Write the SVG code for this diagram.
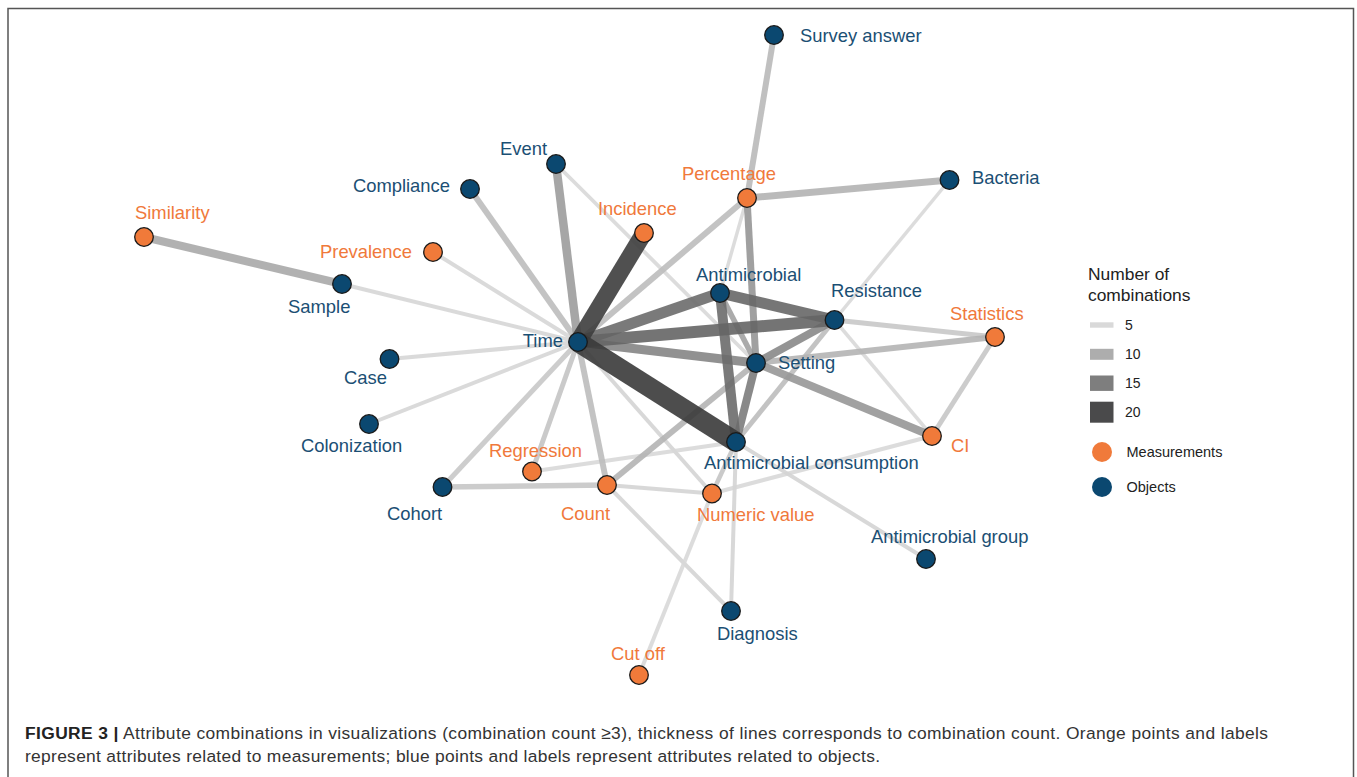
<svg xmlns="http://www.w3.org/2000/svg" width="1357" height="777" viewBox="0 0 1357 777">
<style>
.lbl{font-family:"Liberation Sans",Arial,sans-serif;font-size:18.4px}
.b{fill:#1b4f74}
.o{fill:#f0793b}
.nb{fill:#0b4870;stroke:#1a1a1a;stroke-width:1.3}
.no{fill:#f07a3a;stroke:#1a1a1a;stroke-width:1.3}
.leg{font-family:"Liberation Sans",Arial,sans-serif;fill:#222}
.cap{font-family:"Liberation Sans",Arial,sans-serif;font-size:17.4px;fill:#333}
#edges line{stroke-linecap:butt;stroke-opacity:0.9}
</style>
<rect width="1357" height="777" fill="#fff"/>
<path d="M8,780 V8.5 H1353.5 V780" fill="none" stroke="#555" stroke-width="1.5"/>
<g id="edges">
<line x1="578" y1="342" x2="433" y2="252" stroke="#d6d6d6" stroke-width="4"/>
<line x1="578" y1="342" x2="342" y2="284" stroke="#d6d6d6" stroke-width="4"/>
<line x1="578" y1="342" x2="389.5" y2="359" stroke="#d6d6d6" stroke-width="4"/>
<line x1="578" y1="342" x2="369" y2="424" stroke="#d6d6d6" stroke-width="4"/>
<line x1="578" y1="342" x2="712" y2="493.5" stroke="#d4d4d4" stroke-width="4"/>
<line x1="556" y1="164" x2="756" y2="363" stroke="#d8d8d8" stroke-width="3.8"/>
<line x1="747" y1="198" x2="720" y2="293" stroke="#d8d8d8" stroke-width="3.5"/>
<line x1="949.5" y1="180" x2="834.5" y2="320" stroke="#d8d8d8" stroke-width="3.5"/>
<line x1="834.5" y1="320" x2="932" y2="436" stroke="#d8d8d8" stroke-width="3.5"/>
<line x1="532" y1="471.5" x2="736" y2="442" stroke="#d8d8d8" stroke-width="4"/>
<line x1="932" y1="436" x2="712" y2="493.5" stroke="#d8d8d8" stroke-width="4"/>
<line x1="607" y1="485" x2="712" y2="493.5" stroke="#d4d4d4" stroke-width="4"/>
<line x1="607" y1="485" x2="731" y2="611" stroke="#d4d4d4" stroke-width="4"/>
<line x1="736" y1="442" x2="731" y2="611" stroke="#d4d4d4" stroke-width="4"/>
<line x1="736" y1="442" x2="926" y2="559" stroke="#d4d4d4" stroke-width="4"/>
<line x1="712" y1="493.5" x2="639" y2="675" stroke="#d8d8d8" stroke-width="4"/>
<line x1="712" y1="493.5" x2="736" y2="442" stroke="#c4c4c4" stroke-width="4.5"/>
<line x1="578" y1="342" x2="442.5" y2="487" stroke="#c8c8c8" stroke-width="5"/>
<line x1="578" y1="342" x2="532" y2="471.5" stroke="#c4c4c4" stroke-width="5"/>
<line x1="442.5" y1="487" x2="607" y2="485" stroke="#c6c6c6" stroke-width="5.5"/>
<line x1="834.5" y1="320" x2="995" y2="337" stroke="#c8c8c8" stroke-width="5"/>
<line x1="995" y1="337" x2="932" y2="436" stroke="#c6c6c6" stroke-width="5"/>
<line x1="834.5" y1="320" x2="736" y2="442" stroke="#bcbcbc" stroke-width="5"/>
<line x1="578" y1="342" x2="607" y2="485" stroke="#bcbcbc" stroke-width="6"/>
<line x1="578" y1="342" x2="470" y2="189" stroke="#bcbcbc" stroke-width="6"/>
<line x1="578" y1="342" x2="747" y2="198" stroke="#bcbcbc" stroke-width="6"/>
<line x1="756" y1="363" x2="607" y2="485" stroke="#b4b4b4" stroke-width="6"/>
<line x1="756" y1="363" x2="995" y2="337" stroke="#b4b4b4" stroke-width="6"/>
<line x1="774" y1="35" x2="747" y2="198" stroke="#b9b9b9" stroke-width="6"/>
<line x1="747" y1="198" x2="949.5" y2="180" stroke="#b2b2b2" stroke-width="7"/>
<line x1="144" y1="237" x2="342" y2="284" stroke="#a8a8a8" stroke-width="8"/>
<line x1="578" y1="342" x2="556" y2="164" stroke="#9c9c9c" stroke-width="8.5"/>
<line x1="720" y1="293" x2="756" y2="363" stroke="#a2a2a2" stroke-width="5.5"/>
<line x1="747" y1="198" x2="756" y2="363" stroke="#969696" stroke-width="7"/>
<line x1="756" y1="363" x2="932" y2="436" stroke="#979797" stroke-width="8"/>
<line x1="756" y1="363" x2="834.5" y2="320" stroke="#888" stroke-width="8"/>
<line x1="756" y1="363" x2="736" y2="442" stroke="#7c7c7c" stroke-width="8"/>
<line x1="578" y1="342" x2="756" y2="363" stroke="#858585" stroke-width="9"/>
<line x1="720" y1="293" x2="736" y2="442" stroke="#6c6c6c" stroke-width="10"/>
<line x1="578" y1="342" x2="720" y2="293" stroke="#6b6b6b" stroke-width="11"/>
<line x1="720" y1="293" x2="834.5" y2="320" stroke="#676767" stroke-width="11"/>
<line x1="578" y1="342" x2="834.5" y2="320" stroke="#656565" stroke-width="12"/>
<line x1="578" y1="342" x2="644" y2="233" stroke="#3d3d3d" stroke-width="17"/>
<line x1="578" y1="342" x2="736" y2="442" stroke="#3a3a3a" stroke-width="20"/>
</g>
<g id="n-survey"><circle class="nb" cx="774" cy="35" r="9.3"/><text class="lbl b" x="800" y="42">Survey answer</text></g>
<g id="n-event"><circle class="nb" cx="556" cy="164" r="9.3"/><text class="lbl b" x="547" y="155" text-anchor="end">Event</text></g>
<g id="n-compliance"><circle class="nb" cx="470" cy="189" r="9.3"/><text class="lbl b" x="450" y="192" text-anchor="end">Compliance</text></g>
<g id="n-percentage"><circle class="no" cx="747" cy="198" r="9.3"/><text class="lbl o" x="682" y="180">Percentage</text></g>
<g id="n-bacteria"><circle class="nb" cx="949.5" cy="180" r="9.3"/><text class="lbl b" x="972" y="184">Bacteria</text></g>
<g id="n-similarity"><circle class="no" cx="144" cy="237" r="9.3"/><text class="lbl o" x="135" y="219">Similarity</text></g>
<g id="n-incidence"><circle class="no" cx="644" cy="233" r="9.3"/><text class="lbl o" x="598" y="215">Incidence</text></g>
<g id="n-prevalence"><circle class="no" cx="433" cy="252" r="9.3"/><text class="lbl o" x="412" y="258" text-anchor="end">Prevalence</text></g>
<g id="n-sample"><circle class="nb" cx="342" cy="284" r="9.3"/><text class="lbl b" x="288" y="313">Sample</text></g>
<g id="n-antimicrobial"><circle class="nb" cx="720" cy="293" r="9.3"/><text class="lbl b" x="696" y="281">Antimicrobial</text></g>
<g id="n-resistance"><circle class="nb" cx="834.5" cy="320" r="9.3"/><text class="lbl b" x="831" y="297">Resistance</text></g>
<g id="n-statistics"><circle class="no" cx="995" cy="337" r="9.3"/><text class="lbl o" x="950" y="320">Statistics</text></g>
<g id="n-time"><circle class="nb" cx="578" cy="342" r="9.3"/><text class="lbl b" x="563" y="347" text-anchor="end">Time</text></g>
<g id="n-case"><circle class="nb" cx="389.5" cy="359" r="9.3"/><text class="lbl b" x="344" y="384">Case</text></g>
<g id="n-setting"><circle class="nb" cx="756" cy="363" r="9.3"/><text class="lbl b" x="778" y="369">Setting</text></g>
<g id="n-colonization"><circle class="nb" cx="369" cy="424" r="9.3"/><text class="lbl b" x="301" y="452">Colonization</text></g>
<g id="n-ci"><circle class="no" cx="932" cy="436" r="9.3"/><text class="lbl o" x="951" y="452">CI</text></g>
<g id="n-amc"><circle class="nb" cx="736" cy="442" r="9.3"/><text class="lbl b" x="704" y="469">Antimicrobial consumption</text></g>
<g id="n-regression"><circle class="no" cx="532" cy="471.5" r="9.3"/><text class="lbl o" x="489" y="457">Regression</text></g>
<g id="n-cohort"><circle class="nb" cx="442.5" cy="487" r="9.3"/><text class="lbl b" x="387" y="520">Cohort</text></g>
<g id="n-count"><circle class="no" cx="607" cy="485" r="9.3"/><text class="lbl o" x="561" y="520">Count</text></g>
<g id="n-numeric"><circle class="no" cx="712" cy="493.5" r="9.3"/><text class="lbl o" x="697" y="521">Numeric value</text></g>
<g id="n-amgroup"><circle class="nb" cx="926" cy="559" r="9.3"/><text class="lbl b" x="871" y="543">Antimicrobial group</text></g>
<g id="n-diagnosis"><circle class="nb" cx="731" cy="611" r="9.3"/><text class="lbl b" x="717" y="640">Diagnosis</text></g>
<g id="n-cutoff"><circle class="no" cx="639" cy="675" r="9.3"/><text class="lbl o" x="611" y="660">Cut off</text></g>
<g id="legend">
<text class="leg" x="1088" y="280" font-size="17.4">Number of</text>
<text class="leg" x="1088" y="301" font-size="17.4">combinations</text>
<rect x="1090" y="322.3" width="23.5" height="5.4" fill="#d9d9d9"/>
<rect x="1090" y="348.8" width="23.5" height="11" fill="#adadad"/>
<rect x="1090" y="375.5" width="23.5" height="15.4" fill="#7e7e7e"/>
<rect x="1090" y="401.7" width="23.5" height="21" fill="#4a4a4b"/>
<text class="leg" x="1125" y="330" font-size="14">5</text>
<text class="leg" x="1125" y="359" font-size="14">10</text>
<text class="leg" x="1125" y="388" font-size="14">15</text>
<text class="leg" x="1125" y="417" font-size="14">20</text>
<circle cx="1102" cy="452" r="10" fill="#f07a3a"/>
<circle cx="1102" cy="487" r="10" fill="#0b4870"/>
<text class="leg" x="1126.5" y="457" font-size="14.5">Measurements</text>
<text class="leg" x="1126.5" y="492" font-size="14.5">Objects</text>
</g>
<g id="caption">
<text class="cap" x="25" y="739" textLength="1243" lengthAdjust="spacing"><tspan font-weight="bold" fill="#222">FIGURE 3 |</tspan> Attribute combinations in visualizations (combination count ≥3), thickness of lines corresponds to combination count. Orange points and labels</text>
<text class="cap" x="25" y="762" textLength="855" lengthAdjust="spacing">represent attributes related to measurements; blue points and labels represent attributes related to objects.</text>
</g>
</svg>
